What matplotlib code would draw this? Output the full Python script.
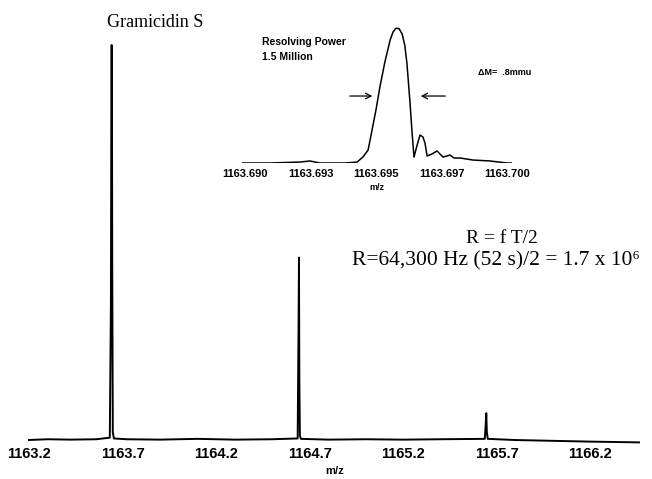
import matplotlib.pyplot as plt

# main spectrum (m/z, relative intensity)
mz_main = [1163.195, 1163.300, 1163.420, 1163.560, 1163.632, 1163.638, 1163.641,
           1163.643, 1163.645, 1163.648, 1163.654, 1163.720, 1163.900, 1164.100,
           1164.300, 1164.500, 1164.636, 1164.641, 1164.643, 1164.645, 1164.648,
           1164.654, 1164.800, 1165.000, 1165.200, 1165.400, 1165.636, 1165.641,
           1165.644, 1165.647, 1165.652, 1165.800, 1166.000, 1166.200, 1166.467]
int_main = [0.000, 0.002, 0.001, 0.002, 0.006, 0.35, 1.000,
            1.000, 0.45, 0.02, 0.004, 0.002, 0.001, 0.003,
            0.001, 0.002, 0.004, 0.30, 0.462, 0.15, 0.01,
            0.003, 0.001, 0.002, 0.001, 0.002, 0.003, 0.040,
            0.068, 0.020, 0.003, 0.000, -0.002, -0.004, -0.006]
main_ticks = [1163.2, 1163.7, 1164.2, 1164.7, 1165.2, 1165.7, 1166.2]

# inset: zoom on the 1163.7 peak
mz_inset = [1163.68989, 1163.69095, 1163.69210, 1163.69248, 1163.69286, 1163.69382,
            1163.69428, 1163.69450, 1163.69470, 1163.69485, 1163.69500, 1163.69515,
            1163.69534, 1163.69554, 1163.69565, 1163.69576, 1163.69588, 1163.69600,
            1163.69610, 1163.69618, 1163.69630, 1163.69637, 1163.69645, 1163.69657,
            1163.69668, 1163.69679, 1163.69687, 1163.69695, 1163.69714, 1163.69733,
            1163.69748, 1163.69756, 1163.69771, 1163.69782, 1163.69798, 1163.69821,
            1163.69870, 1163.69935, 1163.70000, 1163.70019]
int_inset = [0.000, 0.000, 0.007, 0.015, 0.000, 0.000,
             0.007, 0.044, 0.096, 0.244, 0.393, 0.563,
             0.748, 0.911, 0.970, 0.998, 0.995, 0.955,
             0.870, 0.741, 0.444, 0.244, 0.044, 0.133,
             0.207, 0.193, 0.148, 0.052, 0.067, 0.089,
             0.059, 0.044, 0.052, 0.059, 0.037, 0.037,
             0.022, 0.015, 0.000, 0.000]
inset_ticks = [1163.690, 1163.6925, 1163.695, 1163.6975, 1163.700]
inset_labels = ['1163.690', '1163.693', '1163.695', '1163.697', '1163.700']

serif = ['Liberation Serif', 'DejaVu Serif']
sans = ['Liberation Sans', 'DejaVu Sans']

fig = plt.figure(figsize=(6.52, 4.79), dpi=100)

ax = fig.add_axes([0.043, 0.0731, 0.939, 0.8434])
ax.plot(mz_main, int_main, color='black', lw=1.4)
ax.set_xlim(1163.195, 1166.467)
ax.set_ylim(-0.01, 1.013)
for s in ax.spines.values():
    s.set_visible(False)
ax.set_yticks([])
ax.set_xticks(main_ticks)
ax.set_xticklabels([str(t) for t in main_ticks], fontfamily=sans, fontweight='bold', fontsize=10.5)
ax.tick_params(axis='x', length=0, pad=2)
ax.set_xlabel('m/z', fontfamily=sans, fontweight='bold', fontsize=8, labelpad=4)

axi = fig.add_axes([0.3712, 0.6597, 0.4141, 0.2881])
axi.plot(mz_inset, int_inset, color='black', lw=1.1)
axi.set_xlim(1163.68989, 1163.70019)
axi.set_ylim(0, 1.022)
for s in axi.spines.values():
    s.set_visible(False)
axi.set_yticks([])
axi.set_xticks(inset_ticks)
axi.set_xticklabels(inset_labels, fontfamily=sans, fontweight='bold', fontsize=8)
axi.tick_params(axis='x', length=0, pad=4)
axi.set_xlabel('m/z', fontfamily=sans, fontweight='bold', fontsize=6.5, labelpad=3)

# arrows marking the peak width
axi.annotate('', xy=(1163.69497, 0.496), xytext=(1163.69390, 0.496),
             arrowprops=dict(arrowstyle='->', color='black', lw=0.9))
axi.annotate('', xy=(1163.69660, 0.496), xytext=(1163.69775, 0.496),
             arrowprops=dict(arrowstyle='->', color='black', lw=0.9))

fig.text(0.164, 0.954, 'Gramicidin S', fontfamily=serif, fontsize=13, va='center')
fig.text(0.402, 0.912, 'Resolving Power', fontfamily=sans, fontweight='bold', fontsize=7.5, va='center')
fig.text(0.402, 0.881, '1.5 Million', fontfamily=sans, fontweight='bold', fontsize=7.5, va='center')
fig.text(0.733, 0.848, '\u0394M=  .8mmu', fontfamily=sans, fontweight='bold', fontsize=6.5, va='center')
fig.text(0.77, 0.503, 'R = f T/2', fontfamily=serif, fontsize=14, ha='center', va='center')
fig.text(0.982, 0.455, 'R=64,300 Hz (52 s)/2 = 1.7 x 10\u2076', fontfamily=serif, fontsize=15.5,
         ha='right', va='center')

fig.savefig('out.png', dpi=100)
